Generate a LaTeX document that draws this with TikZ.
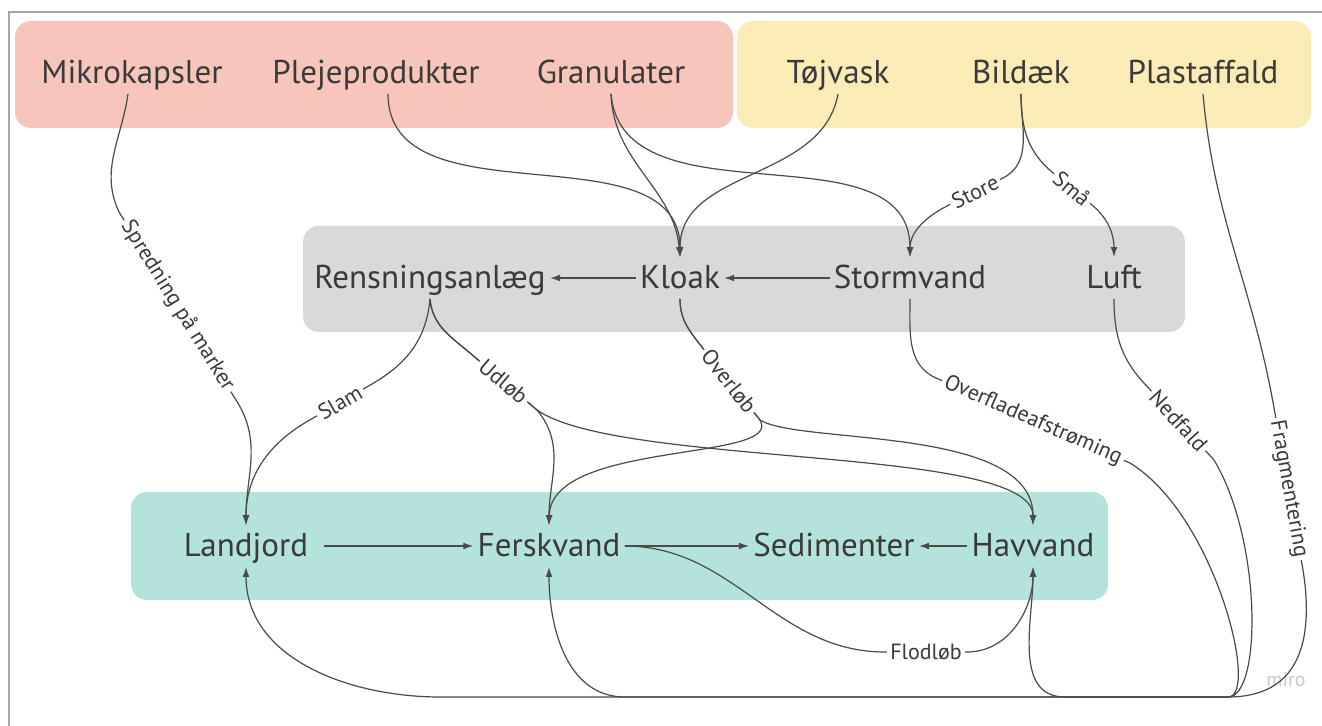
\documentclass[tikz,border=0pt]{standalone}
\usepackage{fontspec}
\setmainfont{PT Sans}
\usepackage{tikz}
\usetikzlibrary{positioning}
\usetikzlibrary{arrows.meta}

\definecolor{rosa}{HTML}{F8C5BB}
\definecolor{gul}{HTML}{FBEBB6}
\definecolor{graa}{HTML}{D9D9D9}
\definecolor{groen}{HTML}{B3E3DA}
\definecolor{tekst}{HTML}{3A3A3A}
\definecolor{streg}{HTML}{4A4A4A}
\definecolor{vandmaerke}{HTML}{C8C8DA}

\begin{document}
\begin{tikzpicture}[x=0.5pt, y=-0.5pt, on grid,
                boxnode/.style={text=tekst, font=\fontsize{16.5}{18}\selectfont, inner xsep=2pt, inner ysep=4pt, text height=11.5pt, text depth=1pt},
                labelnode/.style={text=tekst, font=\fontsize{11}{12}\selectfont, fill=white, inner sep=1.5pt},
                flow/.style={draw=streg, line width=0.6pt, -{Latex[length=5pt,width=3.4pt]}},
                plainline/.style={draw=streg, line width=0.6pt},
                area/.style={rounded corners=8pt},
            ]
            \useasboundingbox (0,0) rectangle (1322,726);
            % Areas
            \draw[gray!70, line width=0.8pt] (1322,12) -- (9,12) -- (9,726);
            \fill[rosa, area] (15,21) rectangle (733,128);
            \fill[gul, area] (737,21) rectangle (1311,128);
            \fill[graa, area] (303,226) rectangle (1185,332);
            \fill[groen, area] (131,492) rectangle (1108,600);

            % Nodes
            \node[boxnode]      (mikro)         at (132,73)                 {Mikrokapsler};
            \node[boxnode]      (pleje)         [right=122pt of mikro]      {Plejeprodukter};
            \node[boxnode]      (granulat)      [right=117.5pt of pleje]    {Granulater};
            \node[boxnode]      (toej)          [right=113.5pt of granulat] {Tøjvask};
            \node[boxnode]      (bildaek)       [right=91.5pt of toej]      {Bildæk};
            \node[boxnode]      (plast)         [right=91pt of bildaek]     {Plastaffald};

            \node[boxnode]      (rens)          at (430,278)                {Rensningsanlæg};
            \node[boxnode]      (kloak)         [right=125pt of rens]       {Kloak};
            \node[boxnode]      (storm)         [right=115pt of kloak]      {Stormvand};
            \node[boxnode]      (luft)          [right=102pt of storm]      {Luft};

            \node[boxnode]      (land)          at (246,546)                {Landjord};
            \node[boxnode]      (fersk)         [right=151.5pt of land]     {Ferskvand};
            \node[boxnode]      (sediment)      [right=142.5pt of fersk]    {Sedimenter};
            \node[boxnode]      (hav)           [right=99.5pt of sediment]  {Havvand};

            \coordinate         (bund)          at (1228,697);
            \node[text=vandmaerke, font=\fontsize{10}{11}\selectfont] (miro) at (1286,680) {miro};

            % Lines
            \draw[flow] ([xshift=-2pt]mikro.south) to[out=-98,in=115] (119,212) -- node[labelnode,sloped]{Spredning på marker} (236,400) to[out=-57,in=90] (land.north);

            \draw[flow] ([xshift=6pt]pleje.south) to[out=-90,in=90] (kloak.north);
            \draw[flow] (granulat.south) to[out=-88,in=95] (kloak.north);
            \draw[flow] (granulat.south) to[out=-85,in=90] (storm.north);
            \draw[flow] (toej.south) to[out=-100,in=90] (kloak.north);
            \draw[flow] (bildaek.south) to[out=-90,in=27] (1003,178) -- node[labelnode,sloped]{Store} (947,206) to[out=-153,in=90] (storm.north);
            \draw[flow] (bildaek.south) to[out=-90,in=140] (1052,172) -- node[labelnode,sloped]{Små} (1092,205) to[out=-40,in=90] (luft.north);

            \draw[flow] (storm.west) -- (kloak.east);
            \draw[flow] (kloak.west) -- (rens.east);

            \draw[flow] (rens.south) to[out=-95,in=30] (372,384) -- node[labelnode,sloped]{Slam} (308,421) to[out=-150,in=90] (land.north);
            \draw[flow] (rens.south) to[out=-85,in=140] (470,353) -- (537,410) .. controls (620,468) and (1033,445) .. (hav.north);
            \draw[flow] (rens.south) to[out=-85,in=140] (470,353) -- node[labelnode,sloped]{Udløb} (537,410) to[out=-50,in=90] (fersk.north);
            \draw[flow] (kloak.south) to[out=-90,in=128] (698,342) -- (760,420) .. controls (800,445) and (1033,425) .. (hav.north);
            \draw[flow] (kloak.south) to[out=-90,in=128] (698,342) -- node[labelnode,sloped]{Overløb} (760,420) .. controls (785,462) and (551,440) .. (fersk.north);

            \draw[plainline] (storm.south) to[out=-90,in=156] (936,378) -- node[labelnode,sloped]{Overfladeafstrøming} (1130,463) .. controls (1215,515) and (1260,697) .. (bund);
            \draw[plainline] (luft.south) to[out=-90,in=132] (1143,382) -- node[labelnode,sloped]{Nedfald} (1214,460) .. controls (1262,540) and (1262,697) .. (bund);
            \draw[plainline] (plast.south) to[out=-85,in=100] (1274,408) -- node[labelnode,sloped]{Fragmentering} (1303,570) .. controls (1314,640) and (1300,697) .. (bund);

            \draw[flow] (bund) -- (440,697) to[out=180,in=-90] (land.south);
            \draw[flow] (bund) -- (625,697) to[out=180,in=-90] (fersk.south);
            \draw[flow] (bund) -- (1065,697) to[out=180,in=-90] (hav.south);

            \draw[flow, shorten <=6pt] (land.east) -- (fersk.west);
            \draw[flow] (fersk.east) -- (sediment.west);
            \draw[flow] (hav.west) -- (sediment.east);
            \draw[flow] (fersk.east) to[out=0,in=180] (885,652) -- node[labelnode]{Flodløb} (967,652) to[out=0,in=-90] (hav.south);
        \end{tikzpicture}
\end{document}
